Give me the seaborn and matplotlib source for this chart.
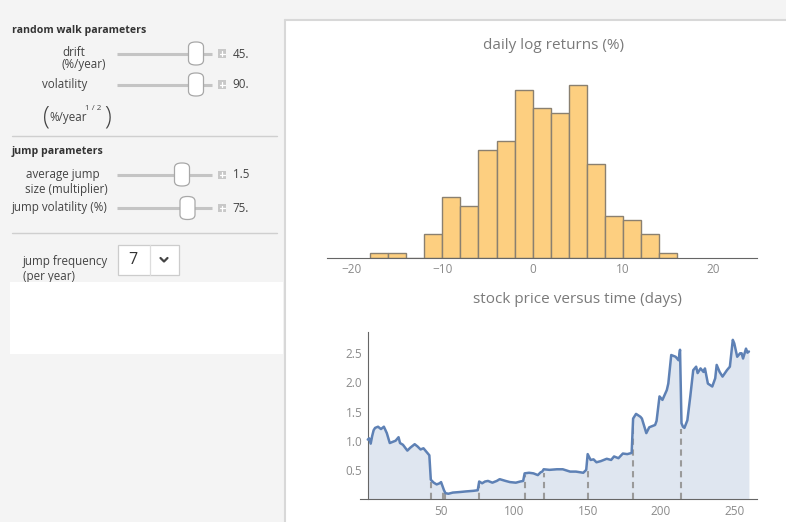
import numpy as np
import matplotlib
matplotlib.use("Agg")
import matplotlib.pyplot as plt
import seaborn as sns
from matplotlib.patches import Rectangle, FancyBboxPatch
from matplotlib.lines import Line2D
from matplotlib.ticker import MultipleLocator, FixedLocator

# ---------------- data ----------------
bin_edges = [-18, -16, -14, -12, -10, -8, -6, -4, -2, 0, 2, 4, 6, 8, 10, 12, 14, 16]
bin_centers = [-17, -15, -13, -11, -9, -7, -5, -3, -1, 1, 3, 5, 7, 9, 11, 13, 15]
bin_counts = [1, 1, 0, 5, 13, 11, 23, 25, 36, 32, 31, 37, 20, 9, 8, 5, 1]

days = [0, 1, 2, 3, 4, 5, 7, 9, 11, 13, 15, 17, 19, 21, 22, 24, 27, 29, 32, 34, 36, 38,
        40, 42, 43, 45, 47, 49, 50, 51, 52, 53, 55, 58, 63, 67, 72, 75, 76, 78, 80, 82,
        85, 88, 90, 94, 97, 101, 104, 106, 107, 110, 113, 116, 118, 119, 120, 124, 129,
        133, 138, 142, 147, 149, 150, 152, 154, 156, 159, 163, 166, 168, 171, 174, 177,
        180, 181, 183, 186, 187, 190, 192, 196, 197, 199, 201, 204, 205, 207, 210, 212,
        213, 214, 215, 216, 218, 220, 222, 224, 225, 227, 229, 230, 232, 235, 237, 238,
        240, 242, 245, 247, 249, 250, 252, 254, 255, 256, 258, 259, 260]
prices = [1.02, 1.04, 0.95, 1.08, 1.18, 1.22, 1.24, 1.20, 1.24, 1.13, 0.96, 0.98, 1.00,
          1.06, 0.96, 0.93, 0.83, 0.88, 0.94, 0.90, 0.85, 0.87, 0.81, 0.75, 0.33, 0.28,
          0.25, 0.27, 0.29, 0.22, 0.15, 0.10, 0.09, 0.11, 0.12, 0.13, 0.14, 0.15, 0.30,
          0.27, 0.30, 0.31, 0.28, 0.31, 0.34, 0.31, 0.29, 0.28, 0.30, 0.31, 0.44, 0.45,
          0.44, 0.41, 0.46, 0.47, 0.51, 0.50, 0.51, 0.51, 0.47, 0.47, 0.45, 0.50, 0.77,
          0.67, 0.68, 0.63, 0.65, 0.69, 0.67, 0.73, 0.70, 0.78, 0.77, 0.79, 1.38, 1.46,
          1.41, 1.38, 1.13, 1.23, 1.27, 1.34, 1.76, 1.70, 1.87, 1.98, 2.47, 2.44, 2.38,
          2.56, 1.30, 1.24, 1.22, 1.35, 1.76, 2.21, 2.27, 2.16, 2.24, 2.18, 2.24, 1.98,
          1.93, 2.07, 2.30, 2.18, 2.10, 2.21, 2.27, 2.73, 2.67, 2.44, 2.50, 2.50, 2.41,
          2.58, 2.51, 2.53]

jump_days = [43, 51, 53, 76, 107, 120, 150, 181, 214]
jump_tops = [0.30, 0.14, 0.10, 0.26, 0.42, 0.44, 0.48, 1.25, 1.20]

hist_ticks = [-20, -10, 0, 10, 20]
price_xticks = [50, 100, 150, 200, 250]
price_yticks = [0.5, 1.0, 1.5, 2.0, 2.5]

# ---------------- figure ----------------
sns.set_style("white")
plt.rcParams['font.family'] = ['Open Sans', 'DejaVu Sans']

W, H = 786, 522
fig = plt.figure(figsize=(W / 100, H / 100), dpi=100, facecolor='#f4f4f4')

def fx(x):
    return x / W

def fy(y):
    return 1 - y / H

# right panel (white) with border
fig.patches.append(Rectangle((fx(285), 0), fx(W) - fx(285), fy(20), transform=fig.transFigure,
                             facecolor='white', edgecolor='none', zorder=0))
fig.lines.append(Line2D([fx(284.5), fx(284.5)], [0, fy(19.5)], transform=fig.transFigure,
                        color='#d8d8d8', lw=1.5, zorder=1))
fig.lines.append(Line2D([fx(284.5), 1], [fy(19.5), fy(19.5)], transform=fig.transFigure,
                        color='#d8d8d8', lw=1.5, zorder=1))

# ---------------- left control panel ----------------
FS = 8.4
txt = dict(transform=fig.transFigure, color='#444444', fontsize=FS, va='center')

fig.text(fx(12), fy(30), 'random walk parameters', fontweight='bold', ha='left',
         **{**txt, 'fontsize': 7.6, 'color': '#333333'})

def slider(yc, thumb_x, value):
    fig.lines.append(Line2D([fx(117), fx(212)], [fy(yc), fy(yc)], transform=fig.transFigure,
                            color='#c4c4c4', lw=2.2, solid_capstyle='butt'))
    tw, th = 15, 23
    fig.patches.append(FancyBboxPatch((fx(thumb_x - tw / 2), fy(yc + th / 2)), fx(tw), th / H,
                                      boxstyle='round,pad=0,rounding_size=0.009',
                                      transform=fig.transFigure, facecolor='white',
                                      edgecolor='#a8a8a8', lw=0.9, zorder=3))
    fig.patches.append(Rectangle((fx(218), fy(yc + 4)), fx(8), 8 / H, transform=fig.transFigure,
                                 facecolor='#c8c8c8', edgecolor='none', zorder=3))
    fig.lines.append(Line2D([fx(219.5), fx(224.5)], [fy(yc), fy(yc)], transform=fig.transFigure,
                            color='white', lw=0.9, zorder=4))
    fig.lines.append(Line2D([fx(222), fx(222)], [fy(yc - 2.5), fy(yc + 2.5)],
                            transform=fig.transFigure, color='white', lw=0.9, zorder=4))
    fig.text(fx(232.5), fy(yc + 0.5), value, ha='left', **txt)

fig.text(fx(62), fy(52.5), 'drift', ha='left', **txt)
fig.text(fx(62), fy(64.5), '(%/year)', ha='left', **txt)
slider(53.5, 196, '45.')

fig.text(fx(42), fy(84.5), 'volatility', ha='left', **txt)
slider(84.5, 196, '90.')

fig.text(fx(42.5), fy(117), '(', ha='left', transform=fig.transFigure, color='#444444',
         fontsize=18, va='center', fontweight='light')
fig.text(fx(49), fy(118), '%/year', ha='left', **txt)
fig.text(fx(85), fy(108.5), '1 / 2', ha='left', **{**txt, 'fontsize': 5.8})
fig.text(fx(104), fy(117), ')', ha='left', transform=fig.transFigure, color='#444444',
         fontsize=18, va='center', fontweight='light')

fig.lines.append(Line2D([fx(12), fx(277)], [fy(135.5), fy(135.5)], transform=fig.transFigure,
                        color='#cfcfcf', lw=1.0))

fig.text(fx(12), fy(151.5), 'jump parameters', fontweight='bold', ha='left',
         **{**txt, 'fontsize': 7.6, 'color': '#333333'})
fig.text(fx(63), fy(174.5), 'average jump', ha='center', **txt)
fig.text(fx(66), fy(189.5), 'size (multiplier)', ha='center', **txt)
slider(174.5, 182, '1.5')
fig.text(fx(12), fy(208), 'jump volatility (%)', ha='left', **txt)
slider(208, 187.5, '75.')

fig.lines.append(Line2D([fx(12), fx(277)], [fy(232.5), fy(232.5)], transform=fig.transFigure,
                        color='#cfcfcf', lw=1.0))

fig.text(fx(23), fy(261.5), 'jump frequency', ha='left', **txt)
fig.text(fx(23), fy(276.5), '(per year)', ha='left', **txt)

# dropdown
fig.patches.append(Rectangle((fx(118), fy(275)), fx(61), 30 / H, transform=fig.transFigure,
                             facecolor='white', edgecolor='#cccccc', lw=0.9, zorder=2))
fig.lines.append(Line2D([fx(150), fx(150)], [fy(245), fy(275)], transform=fig.transFigure,
                        color='#dddddd', lw=0.9, zorder=3))
fig.text(fx(133), fy(260), '7', ha='center', transform=fig.transFigure, color='#333333',
         fontsize=11.5, va='center')
fig.lines.append(Line2D([fx(160.5), fx(164), fx(167.5)], [fy(258), fy(261.5), fy(258)],
                        transform=fig.transFigure, color='#444444', lw=1.6, zorder=3,
                        solid_capstyle='round', solid_joinstyle='round'))

# white box below
fig.patches.append(Rectangle((fx(10), fy(354)), fx(273), 72 / H, transform=fig.transFigure,
                             facecolor='white', edgecolor='none', zorder=4))

# ---------------- histogram ----------------
tick_col = '#8a8a8a'
axis_col = '#666666'

ax1 = fig.add_axes([fx(326.7), fy(257.7), fx(756.7) - fx(326.7), (257.7 - 70) / H])
ax1.set_zorder(10)
ax1.set_facecolor('none')
sns.histplot(x=bin_centers, weights=bin_counts, bins=bin_edges, color='#fdcf80',
             edgecolor='#8a8070', linewidth=1.0, alpha=1.0, ax=ax1)
ax1.set_xlim(-22.8, 24.8)
ax1.set_ylim(0, 37 * (257.7 - 70) / (257.7 - 85))
for s in ['left', 'top', 'right']:
    ax1.spines[s].set_visible(False)
ax1.spines['bottom'].set_color(axis_col)
ax1.spines['bottom'].set_linewidth(0.8)
ax1.set_yticks([])
ax1.set_ylabel('')
ax1.set_xlabel('')
ax1.xaxis.set_major_locator(FixedLocator(hist_ticks))
ax1.xaxis.set_minor_locator(MultipleLocator(2))
ax1.tick_params(axis='x', which='major', direction='in', length=4, width=0.7,
                color=axis_col, labelcolor=tick_col, labelsize=8.5, pad=4)
ax1.tick_params(axis='x', which='minor', direction='in', length=2, width=0.6, color=axis_col)
fig.text(fx(553.7), fy(45), 'daily log returns (%)', ha='center', va='center',
         color='#7a7a7a', fontsize=11, zorder=11)

# ---------------- price path ----------------
ax2 = fig.add_axes([fx(360), fy(499), fx(756.7) - fx(360), (499 - 331.7) / H])
ax2.set_zorder(10)
ax2.set_facecolor('none')
ax2.fill_between(days, prices, 0, color='#dfe6f0', lw=0, zorder=1)
ax2.vlines(jump_days, 0, jump_tops, colors='#9a9a9a', linestyles=(0, (3, 2.2)), lw=1.5,
           zorder=2)
sns.lineplot(x=days, y=prices, color='#5e81b5', lw=1.8, ax=ax2, zorder=3)
ax2.set_xlim(-5.3, 265.3)
ax2.set_ylim(0, 2.87)
ax2.spines['left'].set_position(('data', 0))
for s in ['top', 'right']:
    ax2.spines[s].set_visible(False)
for s in ['left', 'bottom']:
    ax2.spines[s].set_color(axis_col)
    ax2.spines[s].set_linewidth(0.8)
ax2.set_xlabel('')
ax2.set_ylabel('')
ax2.xaxis.set_major_locator(FixedLocator(price_xticks))
ax2.xaxis.set_minor_locator(MultipleLocator(10))
ax2.yaxis.set_major_locator(FixedLocator(price_yticks))
ax2.yaxis.set_minor_locator(MultipleLocator(0.1))
ax2.yaxis.set_major_formatter(matplotlib.ticker.FormatStrFormatter('%.1f'))
ax2.tick_params(which='major', direction='in', length=4, width=0.7, color=axis_col,
                labelcolor=tick_col, labelsize=8.5, pad=4)
ax2.tick_params(which='minor', direction='in', length=2, width=0.6, color=axis_col)
fig.text(fx(577.5), fy(299.3), 'stock price versus time (days)', ha='center', va='center',
         color='#7a7a7a', fontsize=11, zorder=11)

fig.savefig('out.png', dpi=100, facecolor=fig.get_facecolor())
